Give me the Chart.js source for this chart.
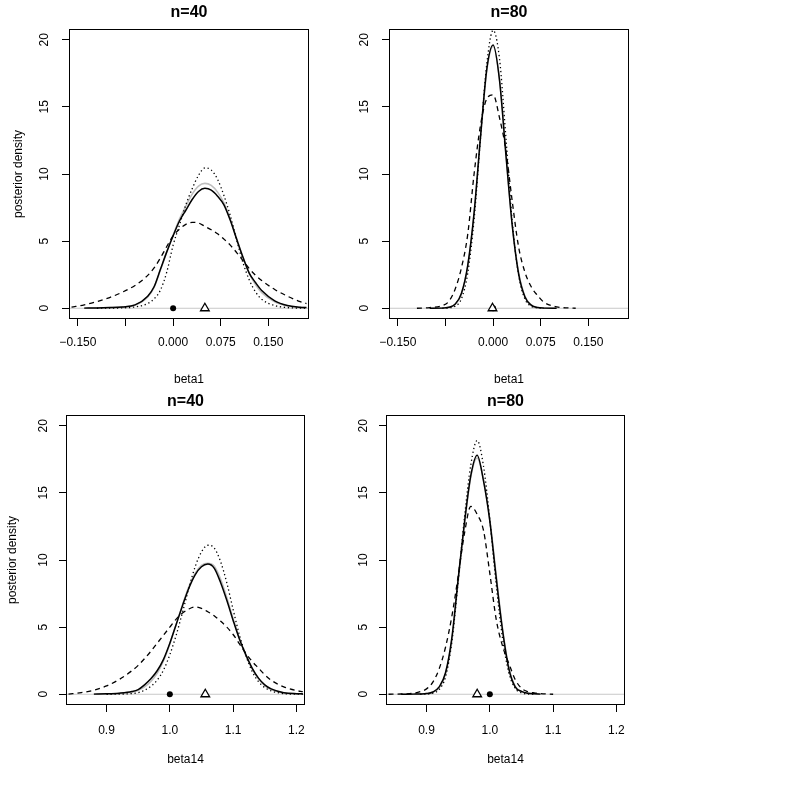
<!DOCTYPE html>
<html>
<head>
<meta charset="utf-8">
<script src="https://cdn.jsdelivr.net/npm/chart.js@4.4.0/dist/chart.umd.min.js"></script>
<style>
  body { margin: 0; background: #fff; }
  #wrap { position: relative; width: 787px; height: 801px; }
  canvas { position: absolute; }
</style>
</head>
<body>
<div id="wrap">
  <canvas id="c1" width="320" height="390" style="left:0px;top:0px"></canvas>
  <canvas id="c2" width="320" height="390" style="left:320px;top:0px"></canvas>
  <canvas id="c3" width="320" height="411" style="left:0px;top:390px"></canvas>
  <canvas id="c4" width="320" height="411" style="left:320px;top:390px"></canvas>
</div>
<script>
// axes
const densityTicks = [0, 5, 10, 15, 20];
const densityLabels = ['0', '5', '10', '15', '20'];
const densityRange = [-0.8, 20.8];

const beta1Ticks = [-0.150, -0.075, 0, 0.075, 0.150];
const beta1Labels = ['\u22120.150', '', '0.000', '0.075', '0.150'];
const beta1Range = [-0.164, 0.214];

const beta14Ticks = [0.9, 1.0, 1.1, 1.2];
const beta14Labels = ['0.9', '1.0', '1.1', '1.2'];
const beta14Range = [0.836, 1.2135];

// beta1, n=40
const b1n40_x      = [-0.16,-0.14,-0.12,-0.10,-0.08,-0.06,-0.04,-0.03,-0.02,-0.01,0.00,0.01,0.02,0.03,0.04,0.05,0.06,0.07,0.08,0.09,0.10,0.11,0.12,0.13,0.14,0.16,0.18,0.20,0.21];
const b1n40_solid  = [null,0.01,0.02,0.05,0.1,0.25,0.9,1.6,2.9,4.2,5.4,6.5,7.3,8.1,8.7,8.93,8.8,8.35,7.7,6.55,5.15,3.8,2.6,1.9,1.3,0.55,0.2,0.08,0.05];
const b1n40_gray   = [null,0.01,0.02,0.04,0.09,0.22,0.85,1.55,2.85,4.2,5.45,6.65,7.6,8.5,9.1,9.3,9.15,8.65,7.85,6.65,5.2,3.8,2.6,1.75,1.15,0.48,0.17,0.06,0.04];
const b1n40_dashed = [0.08,0.25,0.5,0.8,1.2,1.7,2.45,3.0,3.75,4.6,5.4,5.9,6.25,6.4,6.35,6.1,5.85,5.55,5.15,4.7,4.15,3.55,2.95,2.45,2.05,1.4,0.9,0.5,0.35];
const b1n40_dotted = [null,null,0.0,0.01,0.03,0.1,0.35,0.7,1.35,2.7,4.7,6.2,7.7,8.9,9.9,10.45,10.3,9.6,8.4,6.9,5.1,3.4,2.1,1.2,0.65,0.2,0.05,0.01,0.0];

// beta1, n=80
const b1n80_x      = [-0.12,-0.10,-0.08,-0.07,-0.06,-0.05,-0.04,-0.03,-0.02,-0.01,0.00,0.01,0.02,0.03,0.04,0.05,0.06,0.07,0.08,0.10,0.12,0.13];
const b1n80_solid  = [null,0.0,0.01,0.07,0.3,1.1,3.2,7.1,12.7,17.8,19.6,17.0,11.5,6.2,2.6,0.86,0.23,0.05,0.01,0.0,null,null];
const b1n80_gray   = [null,0.0,0.01,0.06,0.28,1.05,3.1,7.0,12.6,17.7,19.5,17.1,11.7,6.3,2.7,0.9,0.25,0.06,0.01,0.0,null,null];
const b1n80_dashed = [0.0,0.05,0.2,0.5,1.4,3.0,5.5,10.0,13.6,15.6,15.9,14.2,11.8,8.0,4.6,2.7,1.6,0.95,0.45,0.1,0.02,0.0];
const b1n80_dotted = [null,null,0.0,0.03,0.15,0.7,2.6,6.6,12.6,18.2,20.7,18.6,12.8,6.5,2.5,0.7,0.15,0.03,0.0,null,null,null];

// beta14, n=40
const b14n40_x      = [0.84,0.86,0.88,0.90,0.92,0.94,0.95,0.96,0.97,0.98,0.99,1.00,1.01,1.02,1.03,1.04,1.05,1.06,1.07,1.08,1.09,1.10,1.11,1.12,1.13,1.14,1.15,1.16,1.18,1.20,1.21];
const b14n40_solid  = [null,null,0.01,0.03,0.08,0.2,0.35,0.7,1.15,1.75,2.6,3.8,5.2,6.6,7.9,8.9,9.5,9.7,9.4,8.35,7.0,5.5,4.1,2.95,1.95,1.2,0.7,0.4,0.12,0.04,0.03];
const b14n40_gray   = [null,null,0.01,0.02,0.06,0.15,0.3,0.55,0.95,1.55,2.5,3.75,5.2,6.65,8.0,9.0,9.6,9.75,9.55,8.6,7.2,5.6,4.15,2.9,1.9,1.15,0.65,0.35,0.1,0.03,0.02];
const b14n40_dashed = [0.01,0.12,0.3,0.62,1.1,1.75,2.15,2.65,3.2,3.8,4.4,5.0,5.6,6.05,6.35,6.5,6.4,6.15,5.85,5.45,5.0,4.45,3.75,3.05,2.45,1.95,1.45,1.05,0.55,0.27,0.2];
const b14n40_dotted = [null,null,null,0.0,0.01,0.05,0.12,0.3,0.6,1.05,1.8,2.95,4.4,6.1,7.9,9.5,10.6,11.1,10.9,9.9,8.3,6.3,4.4,2.9,1.7,0.95,0.5,0.25,0.05,0.01,0.0];

// beta14, n=80
const b14n80_x      = [0.84,0.86,0.88,0.89,0.90,0.91,0.92,0.93,0.94,0.95,0.96,0.97,0.98,0.99,1.00,1.01,1.02,1.03,1.04,1.05,1.06,1.07,1.08,1.10];
const b14n80_solid  = [null,0.0,0.01,0.02,0.05,0.17,0.55,1.6,4.2,8.6,12.8,16.3,17.8,15.9,12.9,8.7,4.8,1.9,0.55,0.22,0.08,0.03,0.01,null];
const b14n80_gray   = [null,0.0,0.01,0.02,0.05,0.15,0.5,1.5,4.0,8.4,12.7,16.2,17.6,16.0,13.0,8.9,4.9,2.0,0.6,0.2,0.07,0.02,0.01,null];
const b14n80_dashed = [0.0,0.02,0.08,0.2,0.4,0.9,1.9,3.5,5.8,8.8,12.0,14.0,13.4,12.2,9.0,5.6,3.6,2.3,1.1,0.45,0.2,0.1,0.05,0.0];
const b14n80_dotted = [null,null,null,0.0,0.01,0.08,0.35,1.3,3.9,8.4,13.2,17.1,18.9,17.0,13.0,8.2,4.2,1.6,0.45,0.1,0.02,0.0,null,null];

// true value (dot) and estimate (triangle) per panel
const truthX = [0, 0, 1.0, 1.0];
const estX = [0.05, -0.001, 1.056, 0.98];

const FONT = "'Liberation Sans', Arial, Helvetica, sans-serif";
Chart.defaults.font.family = FONT;
Chart.defaults.color = '#000';

const rows = {
    top:    { padRight: 11, padBottom: 0,  titlePad: {top: 3.4, bottom: 6.4}, yw: 69, xh: 71, xtp: 9,  xtt: 2.8, ytp: 10.5, ytt: 11 },
    bottom: { padRight: 15, padBottom: 30, titlePad: {top: 2.4, bottom: 3.4}, yw: 66, xh: 66, xtp: 11, xtt: 3.8, ytp: 9,    ytt: 5.6 }
};

const panels = [
    { id: 'c1', row: 'top', title: 'n=40', xName: 'beta1', xt: beta1Ticks, xl: beta1Labels, xr: beta1Range, yTitle: true,
      x: b1n40_x, solid: b1n40_solid, gray: b1n40_gray, dashed: b1n40_dashed, dotted: b1n40_dotted },
    { id: 'c2', row: 'top', title: 'n=80', xName: 'beta1', xt: beta1Ticks, xl: beta1Labels, xr: beta1Range, yTitle: false,
      x: b1n80_x, solid: b1n80_solid, gray: b1n80_gray, dashed: b1n80_dashed, dotted: b1n80_dotted },
    { id: 'c3', row: 'bottom', title: 'n=40', xName: 'beta14', xt: beta14Ticks, xl: beta14Labels, xr: beta14Range, yTitle: true,
      x: b14n40_x, solid: b14n40_solid, gray: b14n40_gray, dashed: b14n40_dashed, dotted: b14n40_dotted },
    { id: 'c4', row: 'bottom', title: 'n=80', xName: 'beta14', xt: beta14Ticks, xl: beta14Labels, xr: beta14Range, yTitle: false,
      x: b14n80_x, solid: b14n80_solid, gray: b14n80_gray, dashed: b14n80_dashed, dotted: b14n80_dotted }
];

function curve(xs, ys) {
    return xs.map((x, i) => ({ x: x, y: ys[i] })).filter(p => p.y !== null);
}

// box round the plot region, like R's bty="o"
const boxPlugin = {
    id: 'box',
    afterDatasetsDraw(chart) {
        const a = chart.chartArea;
        const ctx = chart.ctx;
        ctx.save();
        ctx.strokeStyle = '#000';
        ctx.lineWidth = 1;
        ctx.strokeRect(Math.round(a.left) + 0.5, Math.round(a.top) + 0.5,
                       Math.round(a.right - a.left) - 1, Math.round(a.bottom - a.top) - 1);
        ctx.restore();
    }
};

function lineSet(data, color, width, dash, order) {
    return {
        data: data, borderColor: color, borderWidth: width, borderDash: dash,
        pointRadius: 0, fill: false, cubicInterpolationMode: 'monotone', order: order
    };
}

panels.forEach((p, k) => {
    const lay = rows[p.row];
    const ctx = document.getElementById(p.id).getContext('2d');
    new Chart(ctx, {
        type: 'line',
        data: {
            datasets: [
                lineSet([{ x: p.xr[0], y: 0 }, { x: p.xr[1], y: 0 }], '#c8c8c8', 1, [], 7),
                lineSet(curve(p.x, p.gray), '#bebebe', 1.6, [], 6),
                lineSet(curve(p.x, p.dashed), '#000', 1.3, [5, 4], 5),
                lineSet(curve(p.x, p.dotted), '#000', 1.3, [1.3, 2.7], 4),
                lineSet(curve(p.x, p.solid), '#000', 1.5, [], 3),
                { data: [{ x: truthX[k], y: 0 }], showLine: false, pointStyle: 'circle', pointRadius: 3,
                  pointBackgroundColor: '#000', pointBorderColor: '#000', pointBorderWidth: 0, order: 2 },
                { data: [{ x: estX[k], y: 0 }], showLine: false, pointStyle: 'triangle', pointRadius: 5,
                  pointBackgroundColor: '#fff', pointBorderColor: '#000', pointBorderWidth: 1.3, order: 1 }
            ]
        },
        options: {
            responsive: false,
            animation: false,
            devicePixelRatio: 1,
            layout: { padding: { left: 0, right: lay.padRight, top: 0, bottom: lay.padBottom } },
            plugins: {
                legend: { display: false },
                tooltip: { enabled: false },
                title: {
                    display: true, text: p.title, fullSize: false,
                    font: { size: 16, weight: 'bold' }, color: '#000', padding: lay.titlePad
                }
            },
            scales: {
                x: {
                    type: 'linear', min: p.xr[0], max: p.xr[1], bounds: 'data',
                    afterBuildTicks: s => { s.ticks = p.xt.map(v => ({ value: v })); },
                    afterFit: s => { s.height = lay.xh; },
                    grid: { drawOnChartArea: false, drawTicks: true, tickLength: 7, color: '#000', lineWidth: 1 },
                    border: { display: false },
                    ticks: { autoSkip: false, maxRotation: 0, padding: lay.xtp, font: { size: 12 }, color: '#000',
                             callback: (v, i) => p.xl[i] },
                    title: { display: true, text: p.xName, font: { size: 12 }, color: '#000',
                             padding: { top: 0, bottom: lay.xtt } }
                },
                y: {
                    type: 'linear', min: densityRange[0], max: densityRange[1], bounds: 'data',
                    afterBuildTicks: s => { s.ticks = densityTicks.map(v => ({ value: v })); },
                    afterFit: s => { s.width = lay.yw; },
                    grid: { drawOnChartArea: false, drawTicks: true, tickLength: 7, color: '#000', lineWidth: 1 },
                    border: { display: false },
                    ticks: { minRotation: 90, maxRotation: 90, crossAlign: 'center', padding: lay.ytp,
                             font: { size: 12 }, color: '#000', callback: (v, i) => densityLabels[i] },
                    title: { display: p.yTitle, text: 'posterior density', font: { size: 12 }, color: '#000',
                             padding: { top: lay.ytt, bottom: 0 } }
                }
            }
        },
        plugins: [boxPlugin]
    });
});
</script>
</body>
</html>
